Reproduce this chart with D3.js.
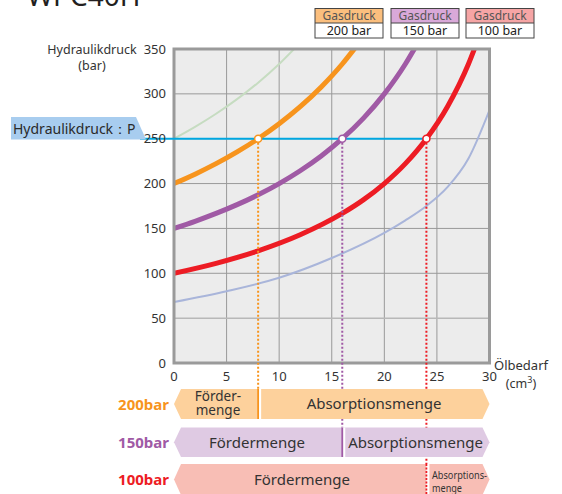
<!DOCTYPE html>
<html><head><meta charset="utf-8">
<script src="https://cdn.jsdelivr.net/npm/d3@7"></script>
<style>
html,body{margin:0;padding:0;background:#fff;}
svg{display:block;font-family:"Noto Sans",sans-serif;}
</style></head><body>
<svg id="c" width="562" height="494"></svg>
<script>
// ---- data ----
const xTicks = [0,5,10,15,20,25,30];
const yTicks = [0,50,100,150,200,250,300,350];
const gasLabels = ["200 bar","150 bar","100 bar"];
const rowLabels = ["200bar","150bar","100bar"];
const hydraulicP = 250;
const crossX = [8,16,24];           // Ölbedarf where each curve reaches 250 bar

const x200 = [0,2,4,6,8,10,12,14,16,17.2];
const p200 = [200,210.5,222.2,235.3,250,266.7,285.7,307.7,333.3,351];
const x150 = [0,2,4,6,8,10,12,14,16,18,20,22,23];
const p150 = [150,157.9,166.7,176.5,187.5,200,214.3,230.8,250,272.7,300,333.3,353];
const x100 = [0,4,8,12,16,18,20,22,24,26,28,29];
const p100 = [100,111.1,125,142.9,166.7,181.8,200,222.2,250,285.7,333.3,363.6];
const x250 = [0,2,4,6,8,10,12];
const p250 = [250,263.2,277.8,294.1,312.5,333.3,357.1];
const x70 = [0,5,10,15,20,22,24,26,28,30];
const p70 = [68,80,95,117,145,159,175,196,228,282];

const colors = {o:"#f7941d", p:"#a05aa5", r:"#ed1c24", g:"#c6dcc1", b:"#a9b5da"};
const svg = d3.select("#c");
const x = d3.scaleLinear().domain([0,30]).range([174,489.5]);
const y = d3.scaleLinear().domain([0,350]).range([363,49]);

// title (cut off at top)
svg.append("text").attr("x",27).attr("y",6).attr("font-size",28).attr("fill","#231f20").text("WPC40H");

// legend
const legFill = ["#fbbf7e","#d9a9d9","#f6a5a5"];
const legX = [315,391,466];
gasLabels.forEach((t,i)=>{
  const g = svg.append("g");
  g.append("rect").attr("x",legX[i]).attr("y",8.5).attr("width",68).attr("height",14.5).attr("fill",legFill[i]);
  g.append("rect").attr("x",legX[i]).attr("y",23).attr("width",68).attr("height",15).attr("fill","#fff");
  g.append("rect").attr("x",legX[i]).attr("y",8.5).attr("width",68).attr("height",29.5).attr("fill","none").attr("stroke","#444").attr("stroke-width",1);
  g.append("line").attr("x1",legX[i]).attr("x2",legX[i]+68).attr("y1",23).attr("y2",23).attr("stroke","#444");
  g.append("text").attr("x",legX[i]+34).attr("y",20).attr("text-anchor","middle").attr("font-size",12).attr("fill","#555").text("Gasdruck");
  g.append("text").attr("x",legX[i]+34).attr("y",35).attr("text-anchor","middle").attr("font-size",12.5).attr("fill","#222").text(t);
});

// plot background
svg.append("rect").attr("x",x(0)).attr("y",y(350)).attr("width",x(30)-x(0)).attr("height",y(0)-y(350)).attr("fill","#ececec");
// grid
svg.append("g").selectAll("line").data(xTicks.slice(1,-1)).join("line")
  .attr("x1",d=>x(d)).attr("x2",d=>x(d)).attr("y1",y(350)).attr("y2",y(0)).attr("stroke","#999").attr("stroke-width",1);
svg.append("g").selectAll("line").data(yTicks.slice(1,-1)).join("line")
  .attr("x1",x(0)).attr("x2",x(30)).attr("y1",d=>y(d)).attr("y2",d=>y(d))
  .attr("stroke",d=>d===50?"#b8b8b8":"#999").attr("stroke-width",d=>d===50?1.5:1);

// clip
svg.append("clipPath").attr("id","pc").append("rect").attr("x",x(0)).attr("y",y(350)).attr("width",x(30)-x(0)).attr("height",y(0)-y(350));

const line = d3.line().x(d=>x(d[0])).y(d=>y(d[1])).curve(d3.curveMonotoneX);
const curves = [
  [x250,p250,colors.g,2],
  [x70,p70,colors.b,2],
  [x100,p100,colors.r,5],
  [x150,p150,colors.p,5],
  [x200,p200,colors.o,5]
];
const cg = svg.append("g").attr("clip-path","url(#pc)");
curves.forEach(c=>{
  cg.append("path").attr("d",line(d3.zip(c[0],c[1]))).attr("fill","none").attr("stroke",c[2]).attr("stroke-width",c[3]);
});

// frame
svg.append("rect").attr("x",x(0)).attr("y",y(350)).attr("width",x(30)-x(0)).attr("height",y(0)-y(350))
  .attr("fill","none").attr("stroke","#9a9a9a").attr("stroke-width",3);

// bands geometry
const rowTop = [389,427.5,464];
const rowBot = [419,457,495];
const rowFill = ["#fdd19c","#dfcae3","#f8beb5"];
const rowCol = [colors.o,colors.p,colors.r];

// dotted verticals
crossX.forEach((cx,i)=>{
  svg.append("line").attr("x1",x(cx)).attr("x2",x(cx)).attr("y1",y(hydraulicP)).attr("y2",rowTop[i])
    .attr("stroke",rowCol[i]).attr("stroke-width",2).attr("stroke-dasharray","2,2");
});

// blue pressure line
svg.append("line").attr("x1",140).attr("x2",x(crossX[2])).attr("y1",y(hydraulicP)).attr("y2",y(hydraulicP))
  .attr("stroke","#00a7e1").attr("stroke-width",2);
crossX.forEach((cx,i)=>{
  svg.append("circle").attr("cx",x(cx)).attr("cy",y(hydraulicP)).attr("r",3.5).attr("fill","#fff")
    .attr("stroke",rowCol[i]).attr("stroke-width",1.5);
});

// label box
svg.append("path").attr("d","M11,117 L136,117 L146,139.5 L11,139.5 Z").attr("fill","#a8cdef");
svg.append("text").attr("x",13).attr("y",134).attr("font-size",14).attr("fill","#2a2a2a").text("Hydraulikdruck：P");

// axes labels
svg.append("g").selectAll("text").data(yTicks).join("text")
  .attr("x",166).attr("y",d=>y(d)+4.5).attr("text-anchor","end").attr("font-size",13).attr("fill","#333").text(d=>d);
svg.append("g").selectAll("text").data(xTicks).join("text")
  .attr("x",d=>x(d)).attr("y",381).attr("text-anchor","middle").attr("font-size",13).attr("fill","#333").text(d=>d);
svg.append("text").attr("x",92).attr("y",54).attr("text-anchor","middle").attr("font-size",12.5).attr("fill","#333").text("Hydraulikdruck");
svg.append("text").attr("x",92).attr("y",70).attr("text-anchor","middle").attr("font-size",12.5).attr("fill","#333").text("(bar)");
svg.append("text").attr("x",521).attr("y",370).attr("text-anchor","middle").attr("font-size",13).attr("fill","#333").text("Ölbedarf");
const cm = svg.append("text").attr("x",521).attr("y",387.5).attr("text-anchor","middle").attr("font-size",12.5).attr("fill","#333");
cm.append("tspan").text("(cm");
cm.append("tspan").attr("font-size",9).attr("dy",-5).text("3");
cm.append("tspan").attr("dy",5).text(")");

// bands
rowTop.forEach((t,i)=>{
  const b = rowBot[i], m=(t+b)/2;
  const l = x(0), r = x(30);
  svg.append("path").attr("d",`M${l},${m} L${l+7},${t} L${r-7},${t} L${r},${m} L${r-7},${b} L${l+7},${b} Z`).attr("fill",rowFill[i]);
  // divider
  const dx = x(crossX[i]);
  svg.append("rect").attr("x",dx).attr("y",t).attr("width",3).attr("height",b-t).attr("fill","#fff");
  svg.append("line").attr("x1",dx).attr("x2",dx).attr("y1",t).attr("y2",b).attr("stroke",rowCol[i]).attr("stroke-width",1.8)
    .attr("stroke-dasharray",i===2?"2,1.5":null);
  svg.append("text").attr("x",169).attr("y",m+5.5).attr("text-anchor","end").attr("font-size",15).attr("font-weight","bold").attr("fill",rowCol[i]).text(rowLabels[i]);
});
// band texts
const tc = "#333";
svg.append("text").attr("x",218).attr("y",400.5).attr("text-anchor","middle").attr("font-size",13.5).attr("fill",tc).text("Förder-");
svg.append("text").attr("x",218).attr("y",414.5).attr("text-anchor","middle").attr("font-size",13.5).attr("fill",tc).text("menge");
svg.append("text").attr("x",374).attr("y",409).attr("text-anchor","middle").attr("font-size",15).attr("fill",tc).text("Absorptionsmenge");
svg.append("text").attr("x",257).attr("y",448).attr("text-anchor","middle").attr("font-size",15).attr("fill",tc).text("Fördermenge");
svg.append("text").attr("x",415.5).attr("y",448).attr("text-anchor","middle").attr("font-size",15).attr("fill",tc).text("Absorptionsmenge");
svg.append("text").attr("x",302).attr("y",485).attr("text-anchor","middle").attr("font-size",15).attr("fill",tc).text("Fördermenge");
svg.append("text").attr("x",432).attr("y",479).attr("font-size",10.5).attr("fill",tc).attr("textLength",55).attr("lengthAdjust","spacingAndGlyphs").text("Absorptions-");
svg.append("text").attr("x",432).attr("y",492).attr("font-size",10.5).attr("fill",tc).attr("textLength",30).attr("lengthAdjust","spacingAndGlyphs").text("menge");
</script>
</body></html>
